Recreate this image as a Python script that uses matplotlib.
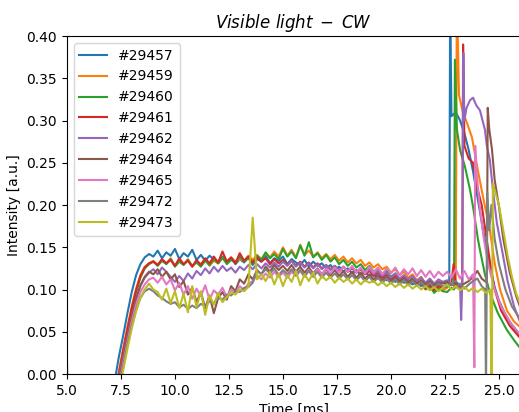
import numpy as np
import matplotlib
matplotlib.use("Agg")
import matplotlib.pyplot as plt

shots = ["#29457", "#29459", "#29460", "#29461", "#29462",
         "#29464", "#29465", "#29472", "#29473"]

# common sampling grid for the flat-top part (ms)
t_main = np.round(np.arange(7.2, 22.41, 0.2), 1)

blue_main = [-0.010, 0.020, 0.045, 0.072, 0.097, 0.117, 0.130, 0.138, 0.142, 0.139,
             0.146, 0.137, 0.144, 0.140, 0.148, 0.136, 0.143, 0.139, 0.147, 0.135,
             0.141, 0.134, 0.140, 0.136, 0.131, 0.139, 0.133, 0.137, 0.130, 0.136,
             0.132, 0.138, 0.129, 0.136, 0.133, 0.140, 0.131, 0.137, 0.134, 0.139,
             0.130, 0.136, 0.132, 0.129, 0.135, 0.127, 0.133, 0.128, 0.131, 0.125,
             0.129, 0.123, 0.127, 0.121, 0.125, 0.119, 0.123, 0.117, 0.121, 0.116,
             0.119, 0.113, 0.117, 0.111, 0.115, 0.109, 0.113, 0.108, 0.111, 0.106,
             0.110, 0.104, 0.108, 0.102, 0.107, 0.103, 0.109]
orange_main = [-0.030, 0.003, 0.030, 0.056, 0.080, 0.101, 0.117, 0.127, 0.131, 0.134,
               0.129, 0.135, 0.131, 0.137, 0.128, 0.134, 0.130, 0.136, 0.127, 0.133,
               0.130, 0.136, 0.128, 0.134, 0.131, 0.137, 0.132, 0.138, 0.133, 0.136,
               0.134, 0.140, 0.135, 0.141, 0.136, 0.143, 0.138, 0.145, 0.139, 0.150,
               0.140, 0.147, 0.138, 0.153, 0.141, 0.146, 0.139, 0.144, 0.137, 0.142,
               0.136, 0.141, 0.134, 0.139, 0.132, 0.137, 0.131, 0.135, 0.128, 0.132,
               0.126, 0.130, 0.124, 0.127, 0.120, 0.124, 0.117, 0.121, 0.114, 0.118,
               0.111, 0.115, 0.106, 0.110, 0.101, 0.105, 0.099]
green_main = [-0.040, -0.005, 0.022, 0.049, 0.075, 0.097, 0.114, 0.125, 0.130, 0.133,
              0.128, 0.134, 0.130, 0.136, 0.127, 0.133, 0.129, 0.135, 0.128, 0.132,
              0.127, 0.134, 0.129, 0.136, 0.131, 0.138, 0.130, 0.135, 0.132, 0.139,
              0.133, 0.137, 0.131, 0.140, 0.135, 0.144, 0.137, 0.142, 0.136, 0.148,
              0.139, 0.145, 0.137, 0.152, 0.140, 0.156, 0.138, 0.143, 0.135, 0.141,
              0.133, 0.138, 0.130, 0.135, 0.128, 0.133, 0.126, 0.130, 0.123, 0.128,
              0.121, 0.125, 0.118, 0.122, 0.115, 0.119, 0.112, 0.116, 0.109, 0.113,
              0.106, 0.110, 0.100, 0.104, 0.096, 0.101, 0.098]
red_main = [-0.035, 0.000, 0.027, 0.053, 0.078, 0.099, 0.116, 0.126, 0.131, 0.133,
            0.129, 0.136, 0.131, 0.135, 0.128, 0.137, 0.130, 0.134, 0.127, 0.135,
            0.129, 0.137, 0.131, 0.139, 0.132, 0.145, 0.133, 0.138, 0.131, 0.143,
            0.134, 0.139, 0.132, 0.138, 0.133, 0.137, 0.130, 0.136, 0.131, 0.135,
            0.129, 0.134, 0.128, 0.133, 0.127, 0.132, 0.126, 0.131, 0.125, 0.129,
            0.124, 0.128, 0.122, 0.127, 0.121, 0.125, 0.120, 0.124, 0.118, 0.122,
            0.116, 0.120, 0.114, 0.118, 0.112, 0.116, 0.110, 0.114, 0.108, 0.112,
            0.105, 0.109, 0.101, 0.106, 0.099, 0.104, 0.102]
purple_main = [-0.040, -0.005, 0.020, 0.045, 0.068, 0.088, 0.104, 0.114, 0.120, 0.124,
               0.118, 0.126, 0.121, 0.115, 0.109, 0.116, 0.110, 0.119, 0.113, 0.122,
               0.117, 0.125, 0.119, 0.127, 0.121, 0.128, 0.122, 0.126, 0.120, 0.127,
               0.123, 0.129, 0.124, 0.130, 0.125, 0.131, 0.126, 0.132, 0.127, 0.133,
               0.128, 0.134, 0.127, 0.132, 0.126, 0.131, 0.125, 0.130, 0.124, 0.129,
               0.123, 0.128, 0.122, 0.127, 0.121, 0.126, 0.120, 0.125, 0.119, 0.124,
               0.118, 0.122, 0.116, 0.120, 0.114, 0.119, 0.113, 0.117, 0.112, 0.116,
               0.110, 0.114, 0.108, 0.113, 0.107, 0.112, 0.109]
brown_main = [-0.045, -0.010, 0.018, 0.044, 0.068, 0.089, 0.105, 0.115, 0.121, 0.118,
              0.124, 0.115, 0.121, 0.112, 0.118, 0.103, 0.110, 0.094, 0.102, 0.085,
              0.097, 0.078, 0.093, 0.072, 0.090, 0.097, 0.088, 0.104, 0.098, 0.112,
              0.107, 0.118, 0.112, 0.123, 0.118, 0.127, 0.121, 0.129, 0.123, 0.128,
              0.122, 0.129, 0.121, 0.127, 0.120, 0.126, 0.119, 0.125, 0.118, 0.124,
              0.117, 0.123, 0.116, 0.122, 0.115, 0.121, 0.114, 0.120, 0.113, 0.118,
              0.112, 0.117, 0.111, 0.115, 0.110, 0.114, 0.109, 0.113, 0.108, 0.112,
              0.107, 0.111, 0.106, 0.110, 0.105, 0.109, 0.107]
pink_main = [-0.050, -0.015, 0.012, 0.038, 0.062, 0.082, 0.097, 0.106, 0.112, 0.114,
             0.108, 0.115, 0.106, 0.112, 0.099, 0.108, 0.094, 0.104, 0.089, 0.101,
             0.092, 0.105, 0.088, 0.099, 0.094, 0.102, 0.091, 0.100, 0.096, 0.104,
             0.099, 0.107, 0.110, 0.117, 0.112, 0.119, 0.114, 0.121, 0.115, 0.120,
             0.114, 0.121, 0.116, 0.122, 0.115, 0.123, 0.117, 0.124, 0.118, 0.125,
             0.119, 0.126, 0.120, 0.127, 0.121, 0.128, 0.120, 0.126, 0.119, 0.127,
             0.120, 0.126, 0.118, 0.125, 0.119, 0.126, 0.117, 0.124, 0.118, 0.125,
             0.116, 0.123, 0.115, 0.122, 0.114, 0.121, 0.116]
gray_main = [-0.055, -0.020, 0.008, 0.034, 0.057, 0.076, 0.090, 0.098, 0.101, 0.098,
             0.093, 0.090, 0.086, 0.083, 0.085, 0.079, 0.082, 0.077, 0.081, 0.078,
             0.083, 0.080, 0.086, 0.084, 0.090, 0.088, 0.094, 0.093, 0.098, 0.097,
             0.102, 0.103, 0.108, 0.122, 0.118, 0.124, 0.119, 0.125, 0.117, 0.123,
             0.118, 0.124, 0.117, 0.123, 0.116, 0.122, 0.115, 0.121, 0.114, 0.120,
             0.114, 0.119, 0.113, 0.118, 0.112, 0.117, 0.111, 0.116, 0.110, 0.115,
             0.109, 0.114, 0.108, 0.113, 0.107, 0.112, 0.106, 0.111, 0.105, 0.110,
             0.104, 0.109, 0.103, 0.108, 0.102, 0.107, 0.104]
olive_main = [-0.060, -0.025, 0.004, 0.030, 0.054, 0.074, 0.090, 0.100, 0.107, 0.100,
              0.097, 0.088, 0.101, 0.084, 0.098, 0.078, 0.095, 0.073, 0.104, 0.079,
              0.098, 0.070, 0.093, 0.082, 0.096, 0.085, 0.091, 0.097, 0.094, 0.100,
              0.098, 0.103, 0.185, 0.112, 0.118, 0.110, 0.121, 0.106, 0.119, 0.104,
              0.117, 0.109, 0.122, 0.105, 0.118, 0.110, 0.120, 0.107, 0.116, 0.111,
              0.115, 0.108, 0.114, 0.109, 0.113, 0.107, 0.112, 0.106, 0.111, 0.108,
              0.110, 0.105, 0.109, 0.104, 0.108, 0.103, 0.107, 0.102, 0.106, 0.101,
              0.105, 0.100, 0.104, 0.099, 0.103, 0.098, 0.102]

# end of discharge: spikes and decay
blue_tail_t = [22.6, 22.7, 22.74, 22.8, 23.0, 23.2, 23.4, 23.6, 23.8, 24.0, 24.2, 24.4,
               24.6, 24.8, 25.0, 25.3, 25.6, 26.0]
blue_tail_v = [0.105, 0.110, 0.450, 0.305, 0.310, 0.300, 0.285, 0.265, 0.240, 0.210, 0.180, 0.150,
               0.125, 0.103, 0.087, 0.070, 0.058, 0.045]
orange_tail_t = [22.6, 22.8, 23.0, 23.05, 23.15, 23.33, 23.55, 23.75, 24.03, 24.26, 24.58,
                 24.81, 25.05, 25.37, 25.7, 26.0]
orange_tail_v = [0.102, 0.108, 0.105, 0.450, 0.330, 0.310, 0.295, 0.280, 0.240, 0.210, 0.170,
                 0.130, 0.100, 0.075, 0.062, 0.055]
green_tail_t = [22.6, 22.8, 22.92, 22.96, 23.05, 23.2, 23.43, 23.66, 23.8, 24.03, 24.12,
                24.35, 24.58, 24.95, 25.37, 25.7, 26.0]
green_tail_v = [0.097, 0.102, 0.100, 0.372, 0.290, 0.265, 0.245, 0.218, 0.198, 0.159, 0.147,
                0.118, 0.096, 0.072, 0.052, 0.040, 0.030]
red_tail_t = [22.6, 22.8, 22.9, 23.0, 23.2, 23.3, 23.34, 23.4, 23.6, 23.8, 24.0, 24.2,
              24.4, 24.6, 24.8, 25.1, 25.5, 26.0]
red_tail_v = [0.104, 0.108, 0.130, 0.106, 0.102, 0.105, 0.390, 0.270, 0.255, 0.250, 0.220, 0.200,
              0.165, 0.130, 0.100, 0.075, 0.057, 0.042]
purple_tail_t = [22.6, 22.8, 23.0, 23.2, 23.25, 23.3, 23.35, 23.4, 23.5, 23.66, 23.8, 23.95,
                 24.12, 24.35, 24.44, 24.58, 24.72, 24.9, 25.14, 25.4, 25.7, 26.0]
purple_tail_v = [0.111, 0.106, 0.110, 0.104, 0.064, 0.108, 0.380, 0.300, 0.315, 0.324, 0.327, 0.318,
                 0.312, 0.289, 0.270, 0.253, 0.218, 0.179, 0.147, 0.110, 0.080, 0.060]
brown_tail_t = [22.6, 22.8, 23.0, 23.2, 23.4, 23.6, 23.8, 24.0, 24.2, 24.44, 24.48, 24.55,
                24.68, 24.8, 25.0, 25.2, 25.5, 25.8, 26.0]
brown_tail_v = [0.109, 0.105, 0.108, 0.104, 0.107, 0.110, 0.115, 0.122, 0.113, 0.108, 0.315, 0.290,
                0.265, 0.230, 0.198, 0.160, 0.120, 0.092, 0.078]
pink_tail_t = [22.6, 22.8, 23.0, 23.2, 23.4, 23.6, 23.8, 23.86, 23.9, 23.96, 24.1, 24.3,
               24.5, 24.8, 25.1, 25.5, 26.0]
pink_tail_v = [0.121, 0.114, 0.124, 0.113, 0.122, 0.112, 0.118, 0.008, 0.270, 0.240, 0.200, 0.160,
               0.130, 0.100, 0.080, 0.062, 0.046]
gray_tail_t = [22.6, 22.8, 23.0, 23.2, 23.4, 23.6, 23.8, 24.0, 24.2, 24.36, 24.40, 24.46,
               24.55, 24.65, 24.8, 25.0, 25.3, 25.6, 26.0]
gray_tail_v = [0.103, 0.108, 0.102, 0.107, 0.101, 0.106, 0.110, 0.113, 0.104, 0.100, -0.020, 0.215,
               0.170, 0.200, 0.160, 0.130, 0.100, 0.080, 0.064]
olive_tail_t = [22.6, 22.8, 23.0, 23.2, 23.4, 23.6, 23.8, 24.0, 24.2, 24.4, 24.6, 24.66,
                24.72, 24.8, 25.0, 25.2, 25.4, 25.6, 25.8, 26.0]
olive_tail_v = [0.106, 0.100, 0.104, 0.099, 0.103, 0.098, 0.102, 0.097, 0.101, 0.096, 0.100, -0.020,
                0.225, 0.218, 0.200, 0.170, 0.140, 0.115, 0.095, 0.082]

# purple trace shows a tiny offset right at the start of the window
purple_pre_t = [5.0, 5.05]
purple_pre_v = [0.017, -0.040]

mains = [blue_main, orange_main, green_main, red_main, purple_main,
         brown_main, pink_main, gray_main, olive_main]
tails_t = [blue_tail_t, orange_tail_t, green_tail_t, red_tail_t, purple_tail_t,
           brown_tail_t, pink_tail_t, gray_tail_t, olive_tail_t]
tails_v = [blue_tail_v, orange_tail_v, green_tail_v, red_tail_v, purple_tail_v,
           brown_tail_v, pink_tail_v, gray_tail_v, olive_tail_v]

fig = plt.figure(figsize=(5.19, 4.12), dpi=100)
ax = fig.add_axes([0.129, 0.0922, 0.874, 0.8204])

for k, shot in enumerate(shots):
    t = list(t_main) + tails_t[k]
    v = list(mains[k]) + tails_v[k]
    if k == 4:
        t = purple_pre_t + t
        v = purple_pre_v + v
    ax.plot(t, v, label=shot)

ax.set_xlim(5, 26)
ax.set_ylim(0, 0.4)
ax.set_xticks([5.0, 7.5, 10.0, 12.5, 15.0, 17.5, 20.0, 22.5, 25.0])
ax.set_xlabel("Time [ms]")
ax.set_ylabel("Intensity [a.u.]")
ax.set_title(r"$Visible\ light\;-\;CW$")
ax.legend(loc="upper left")

fig.savefig("out.png", dpi=100)
